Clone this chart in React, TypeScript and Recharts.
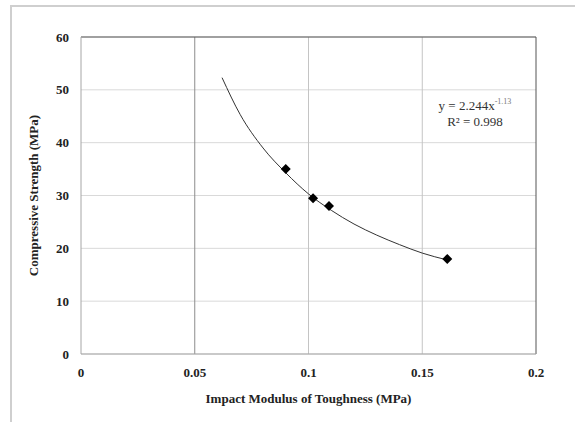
import { ComposedChart, Scatter, Line, XAxis, YAxis, CartesianGrid, ReferenceLine } from "recharts";

const toughness = [0.09, 0.102, 0.109, 0.161];
const strength = [35, 29.5, 28, 18];

// trend line y = 2.244x^-1.13
const trendX = [0.062, 0.07, 0.08, 0.09, 0.1, 0.11, 0.12, 0.13, 0.14, 0.15, 0.161];
const trendY = [52.3, 45.3, 39.0, 34.3, 30.3, 27.2, 24.6, 22.5, 20.7, 19.1, 17.8];

const xTicks = [0, 0.05, 0.1, 0.15, 0.2];
const yTicks = [0, 10, 20, 30, 40, 50, 60];

const points = toughness.map((x, i) => ({ x, y: strength[i] }));
const trend = trendX.map((x, i) => ({ x, t: trendY[i] }));

const FONT = '"Liberation Serif", "Times New Roman", serif';

function Diamond(props: any) {
  const { cx, cy } = props;
  const r = 5;
  return <path d={`M${cx},${cy - r}L${cx + r},${cy}L${cx},${cy + r}L${cx - r},${cy}Z`} fill="#000" />;
}

const fmt = (v: number) => String(v);

export default function App() {
  return (
    <div style={{ position: "absolute", left: 0, top: 0, width: 575, height: 422, background: "#fff", fontFamily: FONT }}>
      <div style={{ position: "absolute", left: 10, top: 5, right: 0, bottom: 0, borderLeft: "2px solid #cfcfcf", borderTop: "2px solid #cfcfcf" }} />
      <div style={{ position: "absolute", left: 0, top: 0 }}>
        <ComposedChart width={575} height={422} margin={{ top: 37, right: 39, bottom: 0, left: 41 }}>
          <CartesianGrid horizontal={true} vertical={false} stroke="#d9d9d9" strokeWidth={1} />
          <ReferenceLine x={0.1} stroke="#c4c4c4" />
          <ReferenceLine x={0.15} stroke="#c4c4c4" />
          <ReferenceLine x={0.05} stroke="#8c8c8c" />
          <ReferenceLine y={60} stroke="#555" />
          <ReferenceLine x={0.2} stroke="#555" />
          <XAxis
            type="number"
            dataKey="x"
            domain={[0, 0.2]}
            ticks={xTicks}
            tickFormatter={fmt}
            height={68}
            axisLine={{ stroke: "#a6a6a6" }}
            tickLine={false}
            tickSize={0}
            tickMargin={14}
            tick={{ fontFamily: FONT, fontSize: 13, fontWeight: "bold", fill: "#222" }}
            label={{ value: "Impact Modulus of Toughness (MPa)", position: "insideBottom", offset: 19, style: { fontFamily: FONT, fontSize: 13, fontWeight: "bold", fill: "#222" } }}
          />
          <YAxis
            type="number"
            domain={[0, 60]}
            ticks={yTicks}
            width={40}
            axisLine={{ stroke: "#a6a6a6" }}
            tickLine={false}
            tickSize={0}
            tickMargin={12}
            tick={{ fontFamily: FONT, fontSize: 13, fontWeight: "bold", fill: "#222" }}
            label={{ value: "Compressive Strength  (MPa)", angle: -90, position: "insideLeft", offset: -8, style: { fontFamily: FONT, fontSize: 13, fontWeight: "bold", fill: "#222", textAnchor: "middle", whiteSpace: "pre" } }}
          />
          <Line data={trend} dataKey="t" type="monotone" stroke="#333" strokeWidth={1} dot={false} activeDot={false} isAnimationActive={false} />
          <Scatter data={points} dataKey="y" shape={Diamond} isAnimationActive={false} />
        </ComposedChart>
      </div>
      <div style={{ position: "absolute", left: 415, top: 98, width: 120, textAlign: "center", fontSize: 13, lineHeight: "16px", color: "#333" }}>
        <div>y = 2.244x<sup style={{ fontSize: 8, verticalAlign: "top", lineHeight: "8px", color: "#777" }}>-1.13</sup></div>
        <div>R² = 0.998</div>
      </div>
    </div>
  );
}
